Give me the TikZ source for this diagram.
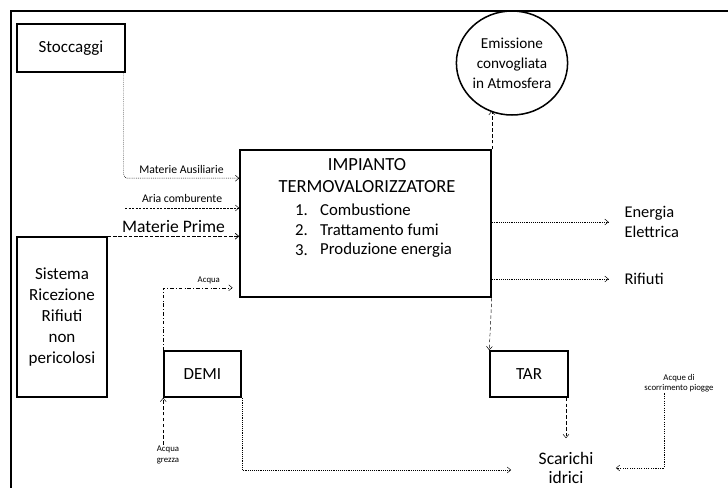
\documentclass[tikz,border=0pt]{standalone}
\usepackage{fontspec}
\setmainfont{Carlito}
\usetikzlibrary{shapes.geometric,calc,arrows.meta}

\tikzset{
    blocco/.style={draw=black, line width=1.3pt, inner sep=0pt, align=center, font=\fontsize{14.5}{18}\selectfont},
    voce/.style={anchor=west, inner sep=0pt, font=\fontsize{14.3}{17}\selectfont},
    uscita/.style={anchor=west, align=left, inner sep=2pt, font=\fontsize{14}{17}\selectfont},
    etichetta/.style={inner sep=1pt, align=center, font=\fontsize{7.5}{9}\selectfont},
    flusso/.style={-{Straight Barb[length=3pt,width=5pt]}, black, thin},
}

\begin{document}
\begin{tikzpicture}[x=0.03cm, y=-0.03cm]
        \useasboundingbox (0,0) rectangle (728,488);
        \draw[line width=2pt] (728,11) -- (11,11) -- (11,488);
        % blocchi
        \node[blocco, minimum width=3.24cm, minimum height=1.44cm] (stoccaggi) at (71,48) {Stoccaggi};
        \node[blocco, minimum width=2.7cm, minimum height=4.8cm] (sistema) at (62,317) {Sistema\\Ricezione\\Rifiuti\\non\\pericolosi};
        \node[blocco, minimum width=7.53cm, minimum height=4.41cm] (impianto) at (365.5,223.5) {};
        \node[blocco, minimum width=2.31cm, minimum height=1.38cm] (demi) at (202.5,374) {DEMI};
        \node[blocco, minimum width=2.34cm, minimum height=1.38cm] (tar) at (529,374) {TAR};
        \node[blocco, ellipse, minimum width=2.28cm, minimum height=3.12cm, font=\fontsize{13}{17}\selectfont] (emissione) at (512,63) {Emissione\\convogliata\\in Atmosfera};
        % testo impianto
        \node[inner sep=0pt, font=\fontsize{15.8}{18}\selectfont] (titolo1) at (367,165) {IMPIANTO};
        \node[inner sep=0pt, font=\fontsize{15.8}{18}\selectfont] (titolo2) at (367,187) {TERMOVALORIZZATORE};
        \node[voce] (n1) at (295,210) {1.};
        \node[voce] (v1) at (320,210) {Combustione};
        \node[voce] (n2) at (295,230) {2.};
        \node[voce] (v2) at (320,230) {Trattamento fumi};
        \node[voce] (n3) at (295,250) {3.};
        \node[voce] (v3) at (320,250) {Produzione energia};
        % uscite
        \node[uscita] (energia) at (622,222) {Energia\\Elettrica};
        \node[uscita] (rifiuti) at (622,279) {Rifiuti};
        \node[inner sep=2pt, align=center, font=\fontsize{15}{16}\selectfont] (scarichi) at (566,468) {Scarichi\\idrici};
        \node[etichetta] (piogge) at (679,383) {Acque di\\scorrimento piogge};
        \node[etichetta] (grezza) at (168,455) {Acqua\\grezza};
        \coordinate (aria) at (125,208);
        % ingressi
        \draw[flusso, dash pattern=on 0.8pt off 0.8pt, rounded corners=3pt] ([xshift=-0.06cm]stoccaggi.south east) |- ($(impianto.north west)+(0,29)$)
            node[pos=0.75, above=3pt, etichetta, font=\fontsize{10}{12}\selectfont] {Materie Ausiliarie};
        \draw[flusso, dash pattern=on 2pt off 1pt] (aria) -- (aria -| impianto.west)
            node[midway, above=3pt, etichetta, font=\fontsize{10}{12}\selectfont] {Aria comburente};
        \draw[flusso, semithick, dash pattern=on 3pt off 1.5pt] (sistema.north east) -- (sistema.north east -| impianto.west)
            node[midway, above=2pt, inner sep=1pt, font=\fontsize{15}{17}\selectfont] {Materie Prime};
        \draw[flusso, dash dot, shorten >=0.2cm] (demi.north west) |- ($(impianto.south west)+(0,-10)$)
            node[pos=0.8, above=2pt, etichetta] {Acqua};
        \draw[flusso, densely dashed] (grezza.north -| demi.south west) -- (demi.south west);
        % uscite impianto
        \draw[flusso, densely dashed] (impianto.north east) -- (impianto.north east |- emissione.244);
        \draw[flusso, densely dashed] (impianto.south east) -- (tar.north west);
        \draw[flusso, dash pattern=on 0.8pt off 0.8pt, shorten >=0.4cm] (energia.west -| impianto.east) -- (energia.west);
        \draw[flusso, dash pattern=on 0.8pt off 0.8pt, shorten >=0.4cm] (rifiuti.west -| impianto.east) -- (rifiuti.west);
        % scarichi
        \draw[flusso, dash pattern=on 0.8pt off 0.8pt, shorten >=0.75cm] (demi.south east) |- ([yshift=-0.06cm]scarichi.west);
        \draw[flusso, densely dashed, shorten >=0.35cm] (tar.south east -| scarichi.north) -- (scarichi.north);
        \draw[flusso, dash pattern=on 1pt off 1pt, shorten >=0.6cm] ([xshift=-0.45cm]piogge.south) |- (scarichi.east);
\end{tikzpicture}
\end{document}
